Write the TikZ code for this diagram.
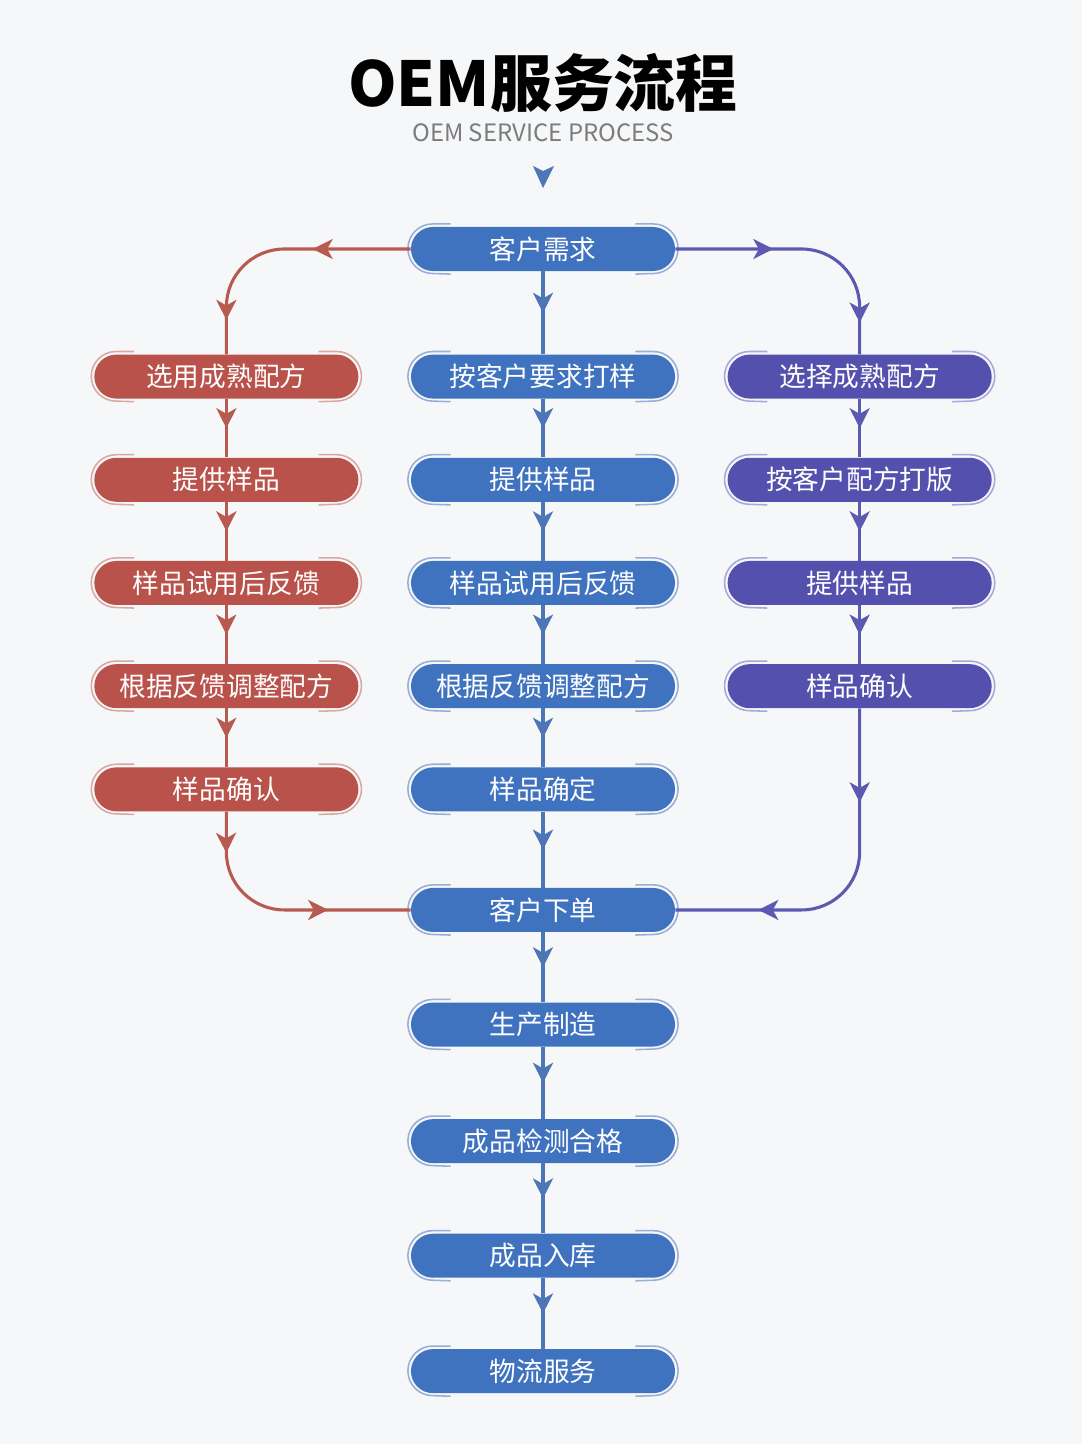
\documentclass[tikz,border=0pt]{standalone}
\usepackage{fontspec}
\newfontfamily\cjk{Noto Sans CJK SC}
\usetikzlibrary{positioning, arrows.meta, decorations.markings}
\definecolor{bgcol}{HTML}{F6F7F9}
\definecolor{subgray}{HTML}{7C7C7C}
\definecolor{bfill}{HTML}{3F72BF}
\definecolor{bline}{HTML}{4C76B6}
\definecolor{bedge}{HTML}{98AED4}
\definecolor{rfill}{HTML}{B8524A}
\definecolor{rline}{HTML}{B85A50}
\definecolor{redge}{HTML}{D9A8A2}
\definecolor{pfill}{HTML}{5451AE}
\definecolor{pline}{HTML}{5C59B2}
\definecolor{pedge}{HTML}{A9A7D8}
\newcommand{\boxfont}{\cjk\fontsize{19pt}{22pt}\selectfont}
\tikzset{
    pill/.style 2 args={fill=#1, rounded corners=0.55cm, minimum width=6.6cm,
        minimum height=1.1cm, inner sep=0pt, text=white, font=\boxfont,
        append after command={\pgfextra{
            \draw[draw=#2, fill=none, line width=1.1pt, sharp corners]
                ([xshift=1cm,yshift=0.07cm]\tikzlastnode.north west)
                -- ([xshift=0.55cm,yshift=0.07cm]\tikzlastnode.north west)
                arc[start angle=90, end angle=270, radius=0.62cm]
                -- ([xshift=1cm,yshift=-0.07cm]\tikzlastnode.south west);
            \draw[draw=#2, fill=none, line width=1.1pt, sharp corners]
                ([xshift=-1cm,yshift=0.07cm]\tikzlastnode.north east)
                -- ([xshift=-0.55cm,yshift=0.07cm]\tikzlastnode.north east)
                arc[start angle=90, end angle=-90, radius=0.62cm]
                -- ([xshift=-1cm,yshift=-0.07cm]\tikzlastnode.south east);
        }}},
    bluebox/.style={pill={bfill}{bedge}},
    redbox/.style={pill={rfill}{redge}},
    purplebox/.style={pill={pfill}{pedge}},
    flowtip/.tip={Stealth[length=0.5cm, width=0.5cm, inset=0.14cm]},
    flow/.style={draw=#1, line width=2.2pt, postaction={decorate},
        decoration={markings, mark=at position 0.5 with {\arrow{flowtip}}}},
    bend/.style n args={3}{draw=#1, line width=2.2pt, rounded corners=1.45cm,
        postaction={decorate},
        decoration={markings, mark=at position #2 with {\arrow{flowtip}},
            mark=at position #3 with {\arrow{flowtip}}}},
}
\begin{document}
\begin{tikzpicture}[x=0.025cm, y=0.025cm, node distance=1.465cm and 1.3cm]
    \fill[bgcol] (0,-1444) rectangle (1082,0);

    % heading
    \node[font=\cjk\bfseries\fontsize{44pt}{48pt}\selectfont] (title) at (543,-83) {OEM服务流程};
    \node[font=\cjk\fontsize{17pt}{20pt}\selectfont, text=subgray] (subtitle) at (543,-133) {OEM SERVICE PROCESS};
    \fill[bline] (533,-166) -- (543,-171) -- (554,-166) -- (543,-188) -- cycle;

    % centre column
    \node[bluebox] (need) at (543,-249) {客户需求};
    \node[bluebox, below=2.075cm of need] (m1) {按客户要求打样};
    \node[bluebox, below=of m1] (m2) {提供样品};
    \node[bluebox, below=of m2] (m3) {样品试用后反馈};
    \node[bluebox, below=of m3] (m4) {根据反馈调整配方};
    \node[bluebox, below=of m4] (m5) {样品确定};
    \node[bluebox, below=1.9cm of m5] (order) {客户下单};
    \node[bluebox, below=1.75cm of order] (make) {生产制造};
    \node[bluebox, below=1.8cm of make] (check) {成品检测合格};
    \node[bluebox, below=1.75cm of check] (store) {成品入库};
    \node[bluebox, below=1.77cm of store] (ship) {物流服务};

    % left column
    \node[redbox, left=of m1] (l1) {选用成熟配方};
    \node[redbox, below=of l1] (l2) {提供样品};
    \node[redbox, below=of l2] (l3) {样品试用后反馈};
    \node[redbox, below=of l3] (l4) {根据反馈调整配方};
    \node[redbox, below=of l4] (l5) {样品确认};

    % right column
    \node[purplebox, right=of m1] (r1) {选择成熟配方};
    \node[purplebox, below=of r1] (r2) {按客户配方打版};
    \node[purplebox, below=of r2] (r3) {提供样品};
    \node[purplebox, below=of r3] (r4) {样品确认};

    \foreach \a/\b in {need/m1, m1/m2, m2/m3, m3/m4, m4/m5, m5/order,
                       order/make, make/check, check/store, store/ship}
        \draw[flow=bline] (\a) -- (\b);
    \foreach \a/\b in {l1/l2, l2/l3, l3/l4, l4/l5}
        \draw[flow=rline] (\a) -- (\b);
    \foreach \a/\b in {r1/r2, r2/r3, r3/r4}
        \draw[flow=pline] (\a) -- (\b);

    \draw[bend={rline}{0.37}{0.87}] (need.west) -| (l1.north);
    \draw[bend={pline}{0.37}{0.88}] (need.east) -| (r1.north);
    \draw[bend={rline}{0.16}{0.68}] (l5.south) |- (order.west);
    \draw[bend={pline}{0.26}{0.77}] (r4.south) |- (order.east);
\end{tikzpicture}
\end{document}
